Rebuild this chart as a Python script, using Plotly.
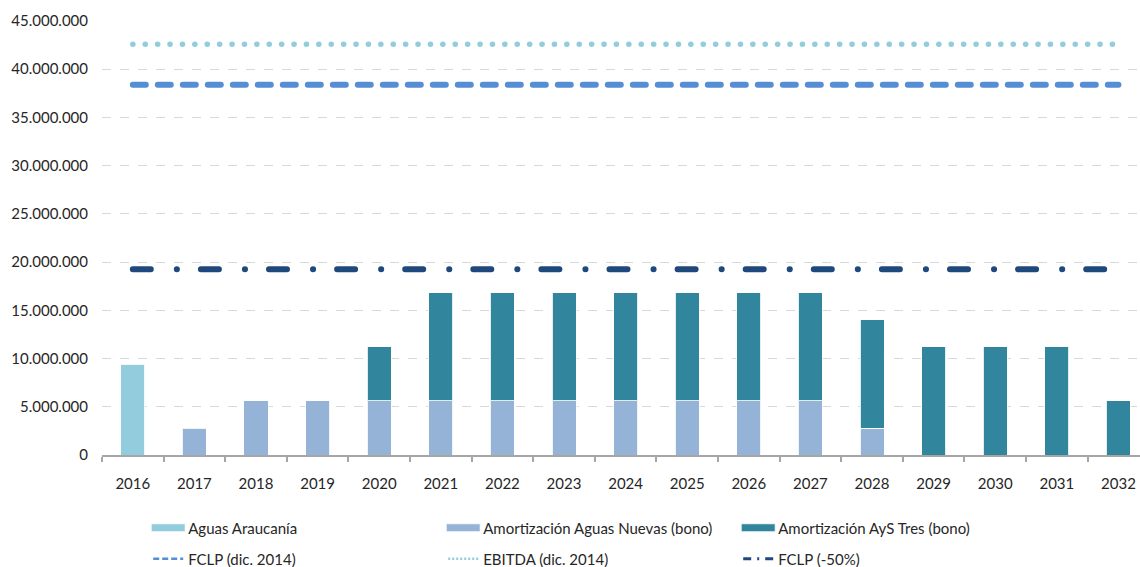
import plotly.graph_objects as go

years = [str(y) for y in range(2016, 2033)]
aguas_araucania = [9.4e6] + [None] * 16
aguas_nuevas = [None, 2.8e6, 5.6e6, 5.6e6, 5.6e6, 5.6e6, 5.6e6, 5.6e6, 5.6e6, 5.6e6, 5.6e6, 5.6e6, 2.8e6, None, None, None, None]
ays_tres = [None, None, None, None, 5.6e6, 11.2e6, 11.2e6, 11.2e6, 11.2e6, 11.2e6, 11.2e6, 11.2e6, 11.2e6, 11.2e6, 11.2e6, 11.2e6, 5.6e6]
fclp = [38.4e6] * 17
ebitda = [42.6e6] * 17
fclp_50 = [19.25e6] * 17

FONT = "Lato, 'Open Sans', sans-serif"
TXT = "#262626"

fig = go.Figure()
bar_line = dict(color="rgba(255,255,255,0.85)", width=1)
fig.add_bar(x=years, y=aguas_araucania, name="Aguas Araucanía",
            marker=dict(color="#93CDDD", line=bar_line), width=0.39, legend="legend")
fig.add_bar(x=years, y=aguas_nuevas, name="Amortización Aguas Nuevas (bono)",
            marker=dict(color="#95B3D7", line=bar_line), width=0.39, legend="legend")
fig.add_bar(x=years, y=ays_tres, name="Amortización AyS Tres (bono)",
            marker=dict(color="#31859C", line=bar_line), width=0.39, legend="legend")

fig.add_scatter(x=years, y=fclp, name="FCLP (dic. 2014)", mode="lines",
                line=dict(color="#558ED5", width=6, dash="13px,12px"), legend="legend2")
fig.add_scatter(x=years, y=ebitda, name="EBITDA (dic. 2014)", mode="lines",
                line=dict(color="#93CDDD", width=5.5, dash="0.1px,12.3px"), legend="legend2")
fig.add_scatter(x=years, y=fclp_50, name="FCLP (-50%)", mode="lines",
                line=dict(color="#1F497D", width=6, dash="18px,26px,0.1px,24px"), legend="legend2")

leg_common = dict(orientation="h", xref="container", yref="container",
                  xanchor="left", yanchor="middle", entrywidthmode="pixels",
                  entrywidth=250, font=dict(family=FONT, size=15, color=TXT),
                  bgcolor="rgba(0,0,0,0)", traceorder="normal")

fig.update_layout(
    width=1140, height=567,
    barmode="stack",
    separators=",.",
    plot_bgcolor="white", paper_bgcolor="white",
    margin=dict(l=102, r=0, t=21, b=112),
    font=dict(family=FONT, size=15, color=TXT),
    showlegend=True,
    legend=dict(x=0.13, y=1 - 528 / 567, **leg_common),
    legend2=dict(x=0.13, y=1 - 559 / 567, **leg_common),
    xaxis=dict(type="category", range=[-0.5, 16.35], showgrid=False,
               showline=True, linecolor="#A6A6A6", linewidth=1.5,
               ticks="outside", tickson="boundaries", ticklen=5, tickcolor="#A6A6A6",
               tickwidth=1.5, ticklabelstandoff=14,
               tickfont=dict(family=FONT, size=15, color=TXT)),
    yaxis=dict(range=[0, 45e6], dtick=5e6, tickformat=",d",
               showgrid=True, gridcolor="#D9D9D9", griddash="dash", gridwidth=1,
               zeroline=False, showline=False, ticklabelstandoff=13,
               tickfont=dict(family=FONT, size=15, color=TXT)),
)

post = """
var s = document.createElement('style');
s.textContent = 'body{margin:0 !important;} '
 + '.scatterlayer path.js-line{stroke-linecap:round !important;} '
 + '.legendlines path{stroke-width:2.5px !important; stroke-dasharray:6px,3px !important;} '
 + '.legend2 .traces:nth-child(2) .legendlines path{stroke-dasharray:2px,2px !important;} '
 + '.legend2 .traces:nth-child(3) .legendlines path{stroke-width:3px !important; stroke-dasharray:8px,6px,2px,6px !important;} '
 + '.legendpoints path{d:path("M17,4H-17V-4H17Z") !important;}';
document.head.appendChild(s);
"""
fig.write_html("out.html", post_script=post, config={"displayModeBar": False})
